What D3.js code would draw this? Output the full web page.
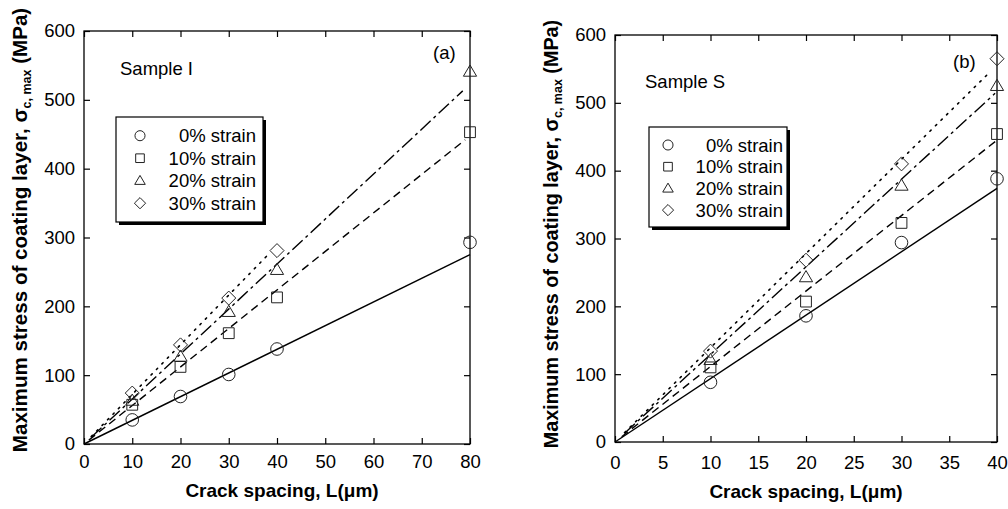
<!DOCTYPE html>
<html>
<head>
<meta charset="utf-8">
<script src="https://cdn.jsdelivr.net/npm/d3@7"></script>
<style>
  html, body { margin: 0; padding: 0; background: #fff; }
  svg { display: block; }
  text { font-family: "Liberation Sans", Arial, Helvetica, sans-serif; fill: #000; }
</style>
</head>
<body>
<svg id="chart" width="1008" height="509"></svg>
<script>
// ---------- data ----------
const seriesNames = ["0% strain", "10% strain", "20% strain", "30% strain"];
const yTicks = [0, 100, 200, 300, 400, 500, 600];
const xTicksA = [0, 10, 20, 30, 40, 50, 60, 70, 80];
const xTicksB = [0, 5, 10, 15, 20, 25, 30, 35, 40];

// Panel (a) – Sample I
const xA0 = [10, 20, 30, 40, 80];
const yA0 = [35, 69, 101, 138, 293];
const xA10 = [10, 20, 30, 40, 80];
const yA10 = [57, 112, 161, 213, 453];
const xA20 = [10, 20, 30, 40, 80];
const yA20 = [63, 127, 192, 253, 541];
const xA30 = [10, 20, 30, 40];
const yA30 = [74, 144, 212, 281];
// fitted lines (start/end) for panel (a)
const fitAx = [[0, 80], [1, 79], [1.5, 78.5], [1.5, 38]];
const fitAy = [[0, 275], [5.6, 442], [9.8, 513], [10.8, 274]];

// Panel (b) – Sample S
const xB = [10, 20, 30, 40];
const yB0 = [88, 186, 294, 388];
const yB10 = [110, 207, 323, 454];
const yB20 = [121, 243, 378, 525];
const yB30 = [134, 268, 410, 565];
const fitBx = [[0, 40], [0.7, 40], [1, 39.8], [1, 39.3]];
const fitBy = [[0, 374], [7.8, 445], [12.9, 514], [13.9, 546]];

// ---------- drawing ----------
const svg = d3.select("#chart");
const FONT = 18.5;
const dashes = [null, "8,5", "14,4,3,4", "1.6,6.2"];

function symbolPath(kind, s) {
  if (kind === 0) {
    const r = 6.3 * s;
    return `M${r},0A${r},${r} 0 1,1 ${-r},0A${r},${r} 0 1,1 ${r},0Z`;
  } else if (kind === 1) {
    const h = 5.4 * s;
    return `M${-h},${-h}H${h}V${h}H${-h}Z`;
  } else if (kind === 2) {
    const w = 6.6 * s, t = 6.6 * s, b = 4.6 * s;
    return `M0,${-t}L${w},${b}L${-w},${b}Z`;
  } else {
    const d = 7 * s;
    return `M0,${-d}L${d},0L0,${d}L${-d},0Z`;
  }
}

function drawPanel(cfg) {
  const g = svg.append("g");
  const x = d3.scaleLinear().domain(cfg.xDomain).range([cfg.left, cfg.right]);
  const y = d3.scaleLinear().domain([0, 600]).range([cfg.bottom, cfg.top]);

  const ax = g.append("g").attr("transform", `translate(0,${cfg.bottom})`)
    .call(d3.axisBottom(x).tickValues(cfg.xTicks).tickSize(-6).tickSizeOuter(0).tickPadding(cfg.xPad));
  const ay = g.append("g").attr("transform", `translate(${cfg.left},0)`)
    .call(d3.axisLeft(y).tickValues(yTicks).tickSize(-6).tickSizeOuter(0).tickPadding(9));
  const at = g.append("g").attr("transform", `translate(0,${cfg.top})`)
    .call(d3.axisTop(x).tickValues(cfg.xTicks).tickSize(-6).tickSizeOuter(0).tickFormat(""));
  const ar = g.append("g").attr("transform", `translate(${cfg.right},0)`)
    .call(d3.axisRight(y).tickValues(yTicks).tickSize(-6).tickSizeOuter(0).tickFormat(""));
  [ax, ay, at, ar].forEach(a => {
    a.selectAll("path.domain").remove();
    a.selectAll("line").attr("stroke", "#000").attr("stroke-width", 1.2);
    a.selectAll("text").style("font-size", FONT + "px").attr("fill", "#000")
      .style("font-family", '"Liberation Sans", Arial, sans-serif');
  });
  g.append("rect")
    .attr("x", cfg.left).attr("y", cfg.top)
    .attr("width", cfg.right - cfg.left).attr("height", cfg.bottom - cfg.top)
    .attr("fill", "none").attr("stroke", "#000").attr("stroke-width", 1.3);

  const line = d3.line().x(d => x(d[0])).y(d => y(d[1]));
  cfg.fitX.forEach((fx, i) => {
    const pts = fx.map((v, j) => [v, cfg.fitY[i][j]]);
    g.append("path").attr("d", line(pts))
      .attr("fill", "none").attr("stroke", "#000")
      .attr("stroke-width", i === 3 ? 1.6 : 1.4)
      .attr("stroke-dasharray", dashes[i])
      .attr("stroke-linecap", i === 3 ? "round" : "butt");
  });

  cfg.series.forEach((s, i) => {
    g.append("g").selectAll("path").data(s.x.map((v, j) => [v, s.y[j]]))
      .join("path")
      .attr("transform", d => `translate(${x(d[0])},${y(d[1])})`)
      .attr("d", symbolPath(i, 1))
      .attr("fill", "none").attr("stroke", "#222").attr("stroke-width", 1);
  });

  g.append("text")
    .attr("x", (cfg.left + cfg.right) / 2 + cfg.xLabDx).attr("y", cfg.xLabY)
    .attr("text-anchor", "middle").style("font-size", "19px").style("font-weight", "bold")
    .text("Crack spacing, L(\u03bcm)");

  const yl = g.append("text")
    .attr("transform", `translate(${cfg.yLabX},${cfg.yLabY}) rotate(-90)`)
    .attr("text-anchor", "middle").style("font-size", cfg.yLabSize + "px").style("font-weight", "bold");
  yl.append("tspan").text("Maximum stress of coating layer, \u03c3");
  yl.append("tspan").attr("dy", 4).style("font-size", "12.5px").text("c, max");
  yl.append("tspan").attr("dy", -4).text(" (MPa)");

  g.append("text").attr("x", cfg.sampleX).attr("y", cfg.sampleY)
    .style("font-size", FONT + "px").text(cfg.sample);
  g.append("text").attr("x", cfg.tagX).attr("y", cfg.tagY)
    .style("font-size", FONT + "px").text(cfg.tag);

  const L = cfg.legend;
  g.append("rect").attr("x", L.x + 3).attr("y", L.y + 3).attr("width", L.w).attr("height", L.h)
    .attr("fill", "#000");
  g.append("rect").attr("x", L.x).attr("y", L.y).attr("width", L.w).attr("height", L.h)
    .attr("fill", "#fff").attr("stroke", "#000").attr("stroke-width", 1.2);
  seriesNames.forEach((name, i) => {
    const cy = L.y + L.first + i * L.step;
    g.append("path").attr("transform", `translate(${L.symX},${cy})`)
      .attr("d", symbolPath(i, 0.8)).attr("fill", "none").attr("stroke", "#222").attr("stroke-width", 1);
    g.append("text").attr("x", L.textX).attr("y", cy + 6.5).attr("text-anchor", "end")
      .style("font-size", FONT + "px").text(name);
  });
}

drawPanel({
  left: 84, right: 470, top: 31, bottom: 444, xDomain: [0, 80], xTicks: xTicksA, xPad: 11,
  series: [{x: xA0, y: yA0}, {x: xA10, y: yA10}, {x: xA20, y: yA20}, {x: xA30, y: yA30}],
  fitX: fitAx, fitY: fitAy,
  xLabY: 497, xLabDx: 5, yLabX: 27, yLabY: 230, yLabSize: 20.6,
  sample: "Sample I", sampleX: 120, sampleY: 75, tag: "(a)", tagX: 433, tagY: 59,
  legend: {x: 116, y: 117, w: 147, h: 105, first: 18.7, step: 22.5, symX: 140, textX: 256}
});

drawPanel({
  left: 615, right: 997, top: 35, bottom: 442, xDomain: [0, 40], xTicks: xTicksB, xPad: 14,
  series: [{x: xB, y: yB0}, {x: xB, y: yB10}, {x: xB, y: yB20}, {x: xB, y: yB30}],
  fitX: fitBx, fitY: fitBy,
  xLabY: 498, xLabDx: 0, yLabX: 558, yLabY: 234, yLabSize: 19.8,
  sample: "Sample S", sampleX: 645, sampleY: 88, tag: "(b)", tagX: 953, tagY: 68,
  legend: {x: 649, y: 127, w: 138, h: 100, first: 18, step: 21.7, symX: 668, textX: 783}
});
</script>
</body>
</html>
